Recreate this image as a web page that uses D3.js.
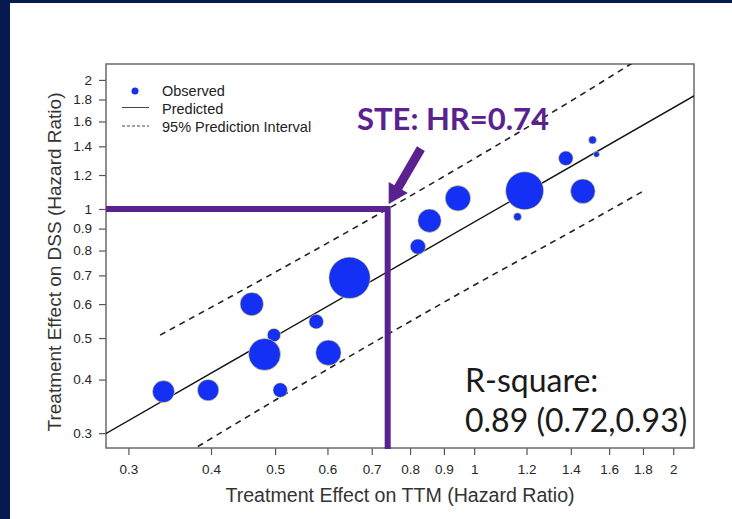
<!DOCTYPE html>
<html>
<head>
<meta charset="utf-8">
<script src="https://cdn.jsdelivr.net/npm/d3@7"></script>
<style>
  html, body { margin: 0; padding: 0; background: #061a4f; }
  svg { display: block; }
</style>
</head>
<body>
<svg id="chart" width="732" height="519"></svg>
<script>
// Trial-level treatment effects (hazard ratios)
const ttmHR = [0.339, 0.396, 0.461, 0.498, 0.482, 0.577, 0.602, 0.509, 0.648,
               0.822, 0.856, 0.945, 1.192, 1.163, 1.376, 1.460, 1.510, 1.531];
const dssHR = [0.375, 0.378, 0.600, 0.508, 0.458, 0.546, 0.462, 0.378, 0.691,
               0.817, 0.939, 1.059, 1.103, 0.959, 1.313, 1.100, 1.449, 1.341];
const trialWeight = [282, 267, 319, 105, 597, 124, 376, 124, 1000,
                     138, 319, 376, 842, 37, 124, 353, 37, 21];

// Fitted regression line and 95% prediction interval (HR scale)
const predX = [0.25, 2.4];
const predY = [0.273, 2.024];
const piX = [0.335, 0.5, 0.74, 1.0, 1.4, 1.8];
const piUpper = [0.508, 0.712, 1.00, 1.31, 1.785, 2.27];
const piLower = [0.247, 0.358, 0.510, 0.664, 0.884, 1.10];

// Surrogate threshold effect
const steHR = 0.74;
const steLabel = "STE: HR=0.74";
const rsqLines = ["R-square:", "0.89 (0.72,0.93)"];

const tickValues = [0.3, 0.4, 0.5, 0.6, 0.7, 0.8, 0.9, 1, 1.2, 1.4, 1.6, 1.8, 2];
const legendLabels = ["Observed", "Predicted", "95% Prediction Interval"];
const xTitle = "Treatment Effect on TTM (Hazard Ratio)";
const yTitle = "Treatment Effect on DSS (Hazard Ratio)";

const svg = d3.select("#chart");
const W = 732, H = 519;
const box = { left: 106, right: 694, top: 64, bottom: 448 };

const purple = "#5a2290";
const blue = "#1530f5";
const axisFont = "'Liberation Sans', Arial, Helvetica, sans-serif";

// white slide panel
svg.append("rect").attr("x", 10).attr("y", 3).attr("width", W - 10).attr("height", H - 3).attr("fill", "#ffffff");

const x = d3.scaleLog().domain([0.2775, 2.15]).range([box.left, box.right]);
const y = d3.scaleLog().domain([0.277, 2.1786]).range([box.bottom, box.top]);

svg.append("clipPath").attr("id", "plotClip")
  .append("rect").attr("x", box.left).attr("y", box.top)
  .attr("width", box.right - box.left).attr("height", box.bottom - box.top);

// axes
const fmt = d => String(d);
const yAxis = svg.append("g").attr("transform", `translate(${box.left},0)`)
  .call(d3.axisLeft(y).tickValues(tickValues).tickFormat(fmt).tickSize(7).tickPadding(7).tickSizeOuter(0));
const xAxis = svg.append("g").attr("transform", `translate(0,${box.bottom})`)
  .call(d3.axisBottom(x).tickValues(tickValues).tickFormat(fmt).tickSize(7).tickPadding(9).tickSizeOuter(0));
[xAxis, yAxis].forEach(g => {
  g.select(".domain").remove();
  g.selectAll(".tick line").attr("stroke", "#555").attr("stroke-width", 1.2);
  g.selectAll(".tick text").attr("fill", "#262626").style("font-family", axisFont).style("font-size", "13.5px");
});

// plot frame
svg.append("rect").attr("x", box.left).attr("y", box.top)
  .attr("width", box.right - box.left).attr("height", box.bottom - box.top)
  .attr("fill", "none").attr("stroke", "#6a6a6a").attr("stroke-width", 1.5);

const plot = svg.append("g").attr("clip-path", "url(#plotClip)");
const line = d3.line().x(d => x(d[0])).y(d => y(d[1]));

plot.append("path").datum(d3.zip(predX, predY)).attr("d", line)
  .attr("fill", "none").attr("stroke", "#111").attr("stroke-width", 1.4);
[piUpper, piLower].forEach(arr => {
  plot.append("path").datum(d3.zip(piX, arr)).attr("d", d3.line().curve(d3.curveMonotoneX).x(d => x(d[0])).y(d => y(d[1])))
    .attr("fill", "none").attr("stroke", "#222").attr("stroke-width", 1.6).attr("stroke-dasharray", "6,5");
});

// bubbles sized by trial weight
const r = d3.scaleSqrt().domain([0, 1000]).range([0, 20.7]);
svg.append("g").selectAll("circle")
  .data(d3.range(ttmHR.length))
  .join("circle")
  .attr("cx", i => x(ttmHR[i]))
  .attr("cy", i => y(dssHR[i]))
  .attr("r", i => r(trialWeight[i]))
  .attr("fill", blue)
  .attr("stroke", "#f2e85a")
  .attr("stroke-width", 0.6);

// legend
const lg = svg.append("g").style("font-family", axisFont).style("font-size", "14.5px").attr("fill", "#222");
lg.append("circle").attr("cx", 135).attr("cy", 91).attr("r", 3.5).attr("fill", blue);
lg.append("line").attr("x1", 122).attr("x2", 149).attr("y1", 107.5).attr("y2", 107.5).attr("stroke", "#444").attr("stroke-width", 1);
lg.append("line").attr("x1", 122).attr("x2", 149).attr("y1", 126).attr("y2", 126).attr("stroke", "#444").attr("stroke-width", 1).attr("stroke-dasharray", "3,2");
legendLabels.forEach((t, i) => {
  lg.append("text").attr("x", 162).attr("y", 96 + i * 17.8).text(t);
});

// axis titles
svg.append("text").attr("x", 400).attr("y", 502).attr("text-anchor", "middle")
  .style("font-family", axisFont).style("font-size", "19.6px").attr("fill", "#333").text(xTitle);
svg.append("text").attr("transform", "translate(61,262) rotate(-90)").attr("text-anchor", "middle")
  .style("font-family", axisFont).style("font-size", "19px").attr("fill", "#333").text(yTitle);

// STE guide lines
const xs = x(steHR), y1 = y(1);
svg.append("path")
  .attr("d", `M${box.left},${y1}H${xs}V${box.bottom + 1}`)
  .attr("fill", "none").attr("stroke", purple).attr("stroke-width", 6).attr("stroke-linejoin", "miter");

// arrow pointing at the STE corner
const tip = [xs + 1, y1 - 5];
const dir = [0.503, -0.865];
const nrm = [-dir[1], dir[0]];
const len = 64, headLen = 19, headW = 11, shaftW = 4.5;
const pt = (a, b) => [tip[0] + dir[0] * a + nrm[0] * b, tip[1] + dir[1] * a + nrm[1] * b];
const arrowPts = [pt(0, 0), pt(headLen, headW), pt(headLen, shaftW), pt(len, shaftW),
                  pt(len, -shaftW), pt(headLen, -shaftW), pt(headLen, -headW)];
svg.append("path").attr("d", "M" + arrowPts.map(p => p.join(",")).join("L") + "Z").attr("fill", purple);

svg.append("text").attr("x", 357).attr("y", 130)
  .style("font-family", "Lato, 'Open Sans', sans-serif").style("font-weight", "bold").style("font-size", "31px")
  .attr("fill", purple).text(steLabel);

// R-square annotation
rsqLines.forEach((t, i) => {
  svg.append("text").attr("x", 465).attr("y", 392 + i * 40)
    .style("font-family", "Lato, 'Open Sans', sans-serif").style("font-size", "32px")
    .attr("fill", "#1a1a1a").text(t);
});
</script>
</body>
</html>
